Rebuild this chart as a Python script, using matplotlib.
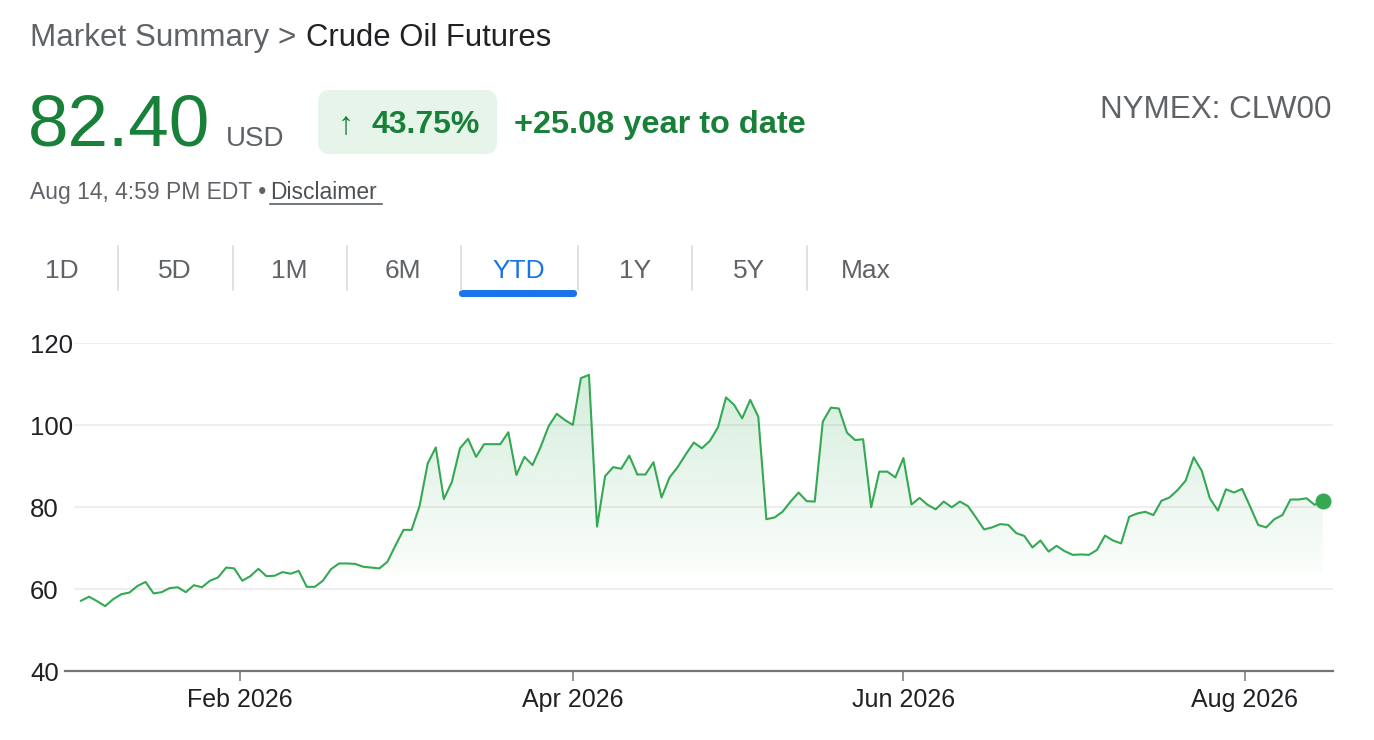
import numpy as np
import pandas as pd
import matplotlib
matplotlib.use("Agg")
import matplotlib.pyplot as plt
import matplotlib.dates as mdates
from matplotlib.colors import to_rgb
from matplotlib.patches import FancyBboxPatch, Polygon

plt.rcParams['font.family'] = ['Liberation Sans', 'DejaVu Sans']

# ---------------- data ----------------
holidays = ['2026-01-19', '2026-02-16', '2026-04-03', '2026-05-25', '2026-06-19', '2026-07-03']
dates = pd.bdate_range('2026-01-02', '2026-08-14', freq='C', holidays=holidays)

prices = [
    57.2, 58.2, 57.1, 55.9, 57.6, 58.8, 59.2, 60.8, 61.8, 59.0,
    59.3, 60.3, 60.5, 59.3, 61.0, 60.5, 62.1, 62.9, 65.3, 65.1,
    62.1, 63.2, 65.0, 63.2, 63.3, 64.2, 63.8, 64.5, 60.6, 60.6,
    62.1, 64.9, 66.3, 66.3, 66.2, 65.5, 65.3, 65.1, 66.7, 70.7,
    74.5, 74.5, 80.4, 90.7, 94.6, 82.0, 86.2, 94.4, 96.7, 92.3,
    95.4, 95.4, 95.4, 98.3, 87.9, 92.3, 90.3, 94.7, 99.8, 102.8,
    101.3, 100.1, 111.5, 112.3, 75.3, 87.6, 89.8, 89.4, 92.6, 88.0,
    88.0, 91.0, 82.4, 87.3, 89.8, 92.9, 95.8, 94.4, 96.2, 99.5,
    106.8, 105.0, 101.7, 106.2, 102.1, 77.1, 77.5, 78.9, 81.4, 83.6,
    81.5, 81.4, 100.9, 104.3, 104.1, 98.2, 96.4, 96.6, 80.0, 88.7,
    88.7, 87.3, 92.0, 80.7, 82.3, 80.6, 79.5, 81.4, 80.0, 81.4,
    80.3, 77.5, 74.6, 75.1, 75.9, 75.7, 73.7, 73.0, 70.2, 71.9,
    69.2, 70.6, 69.3, 68.4, 68.5, 68.4, 69.6, 73.1, 71.9, 71.2,
    77.7, 78.5, 78.9, 78.1, 81.6, 82.4, 84.2, 86.5, 92.2, 88.9,
    82.2, 79.2, 84.4, 83.6, 84.5, 80.2, 75.7, 75.1, 77.1, 78.1,
    81.9, 81.9, 82.2, 80.6, 81.5,
]

month_ticks = ['2026-02-01', '2026-04-01', '2026-06-01', '2026-08-01']
y_ticks = [40, 60, 80, 100, 120]
tabs = ['1D', '5D', '1M', '6M', 'YTD', '1Y', '5Y', 'Max']
active_tab = 'YTD'

breadcrumb = 'Market Summary >'
title = 'Crude Oil Futures'
last_price = '82.40'
currency = 'USD'
arrow = '\u2191'
pct_change = '43.75%'
abs_change = '+25.08 year to date'
ticker = 'NYMEX: CLW00'
timestamp = 'Aug 14, 4:59 PM EDT \u2022 '
disclaimer = 'Disclaimer'

# ---------------- styling ----------------
W, H = 1374, 740
GREEN_TXT = '#188038'
GREEN = '#34a853'
GRAY = '#5f6368'
DARK = '#202124'
BLUE = '#1a73e8'

fig = plt.figure(figsize=(W / 100, H / 100), dpi=100)
fig.patch.set_facecolor('white')

# overlay in pixel coordinates for header UI
ov = fig.add_axes([0, 0, 1, 1], zorder=0)
ov.set_xlim(0, W)
ov.set_ylim(H, 0)
ov.axis('off')
ov.patch.set_alpha(0)

ov.text(30, 46, breadcrumb, fontsize=22.6, color=GRAY, va='baseline')
ov.text(306, 46, title, fontsize=22.3, color=DARK, va='baseline')
ov.text(28, 146, last_price, fontsize=52.5, color=GREEN_TXT, va='baseline')
ov.text(226, 146, currency, fontsize=20, color=GRAY, va='baseline')

box = FancyBboxPatch((318, 90), 179, 64, boxstyle='round,pad=0,rounding_size=12',
                     facecolor='#e6f4ea', edgecolor='none')
ov.add_patch(box)
ov.text(338, 133, arrow, fontsize=23, color=GREEN_TXT, va='baseline')
ov.text(372, 133, pct_change, fontsize=23, color=GREEN_TXT, weight='bold', va='baseline')
ov.text(514, 133, abs_change, fontsize=23.4, color=GREEN_TXT, weight='bold', va='baseline')
ov.text(1332, 118, ticker, fontsize=22.6, color=GRAY, va='baseline', ha='right')

ov.text(30, 199, timestamp, fontsize=16.5, color=GRAY, va='baseline')
ov.text(270, 199, disclaimer, fontsize=16.5, color='#4d5156', va='baseline')
ov.plot([270, 382], [203.5, 203.5], color='#4d5156', lw=1.1)

tab_centers = [62, 175, 289, 403, 519, 635, 749, 866]
for t, cx in zip(tabs, tab_centers):
    ov.text(cx, 278, t, fontsize=19, color=BLUE if t == active_tab else GRAY,
            ha='center', va='baseline')
for sx in [118, 233, 347, 461, 578, 692, 807]:
    ov.plot([sx, sx], [246, 290], color='#dadce0', lw=1.2)
bar = FancyBboxPatch((459, 290), 118, 7, boxstyle='round,pad=0,rounding_size=3.5',
                     facecolor=BLUE, edgecolor='none')
ov.add_patch(bar)

# ---------------- chart ----------------
left_px, right_px, top_px, bot_px = 65, 1333, 343.3, 671.3
ax = fig.add_axes([left_px / W, 1 - bot_px / H, (right_px - left_px) / W, (bot_px - top_px) / H], zorder=1)
ax.patch.set_alpha(0)

x = np.arange(len(prices))
y = np.array(prices)

base = 63.7
top_val = 115
grad = np.linspace(0, 1, 256).reshape(-1, 1)
rgba = np.zeros((256, 1, 4))
rgba[..., :3] = to_rgb(GREEN)
rgba[..., 3] = 0.02 + 0.20 * grad
im = ax.imshow(rgba, extent=[x[0], x[-1], base, top_val], origin='lower', aspect='auto',
               zorder=1, interpolation='bilinear')
poly = Polygon(np.column_stack([np.r_[x, x[-1], x[0]], np.r_[y, 40, 40]]), closed=True,
               facecolor='none', edgecolor='none', transform=ax.transData)
ax.add_patch(poly)
im.set_clip_path(poly)

ax.plot(x, y, color=GREEN, lw=1.5, zorder=3, solid_joinstyle='round')
ax.plot(x[-1], y[-1], 'o', ms=10.5, color=GREEN, zorder=4, clip_on=False)

px_per_idx = (1322.7 - 81) / (len(prices) - 1)
ax.set_xlim(-(81 - left_px) / px_per_idx, (len(prices) - 1) + (right_px - 1322.7) / px_per_idx)
ax.set_ylim(40, 120)

for v in y_ticks[1:]:
    ax.axhline(v, color='#ebebeb', lw=1.2, zorder=0, xmin=10 / (right_px - left_px))

for s in ['top', 'right', 'left']:
    ax.spines[s].set_visible(False)
ax.spines['bottom'].set_color('#757575')
ax.spines['bottom'].set_linewidth(1.6)

dnum = mdates.date2num(dates)
tick_pos = np.interp(mdates.date2num(pd.to_datetime(month_ticks)), dnum, x)
ax.set_xticks(tick_pos)
ax.set_xticklabels([pd.Timestamp(m).strftime('%b %Y') for m in month_ticks])
ax.tick_params(axis='x', length=7, width=1.1, color='#757575', pad=5, labelsize=18, labelcolor=DARK)

ax.set_yticks(y_ticks)
ax.set_yticklabels([str(v) for v in y_ticks])
ax.tick_params(axis='y', length=0, pad=25.2, labelsize=18.5, labelcolor=DARK)
for lbl in ax.get_yticklabels():
    lbl.set_horizontalalignment('left')

fig.savefig('out.png', dpi=100, facecolor='white')
